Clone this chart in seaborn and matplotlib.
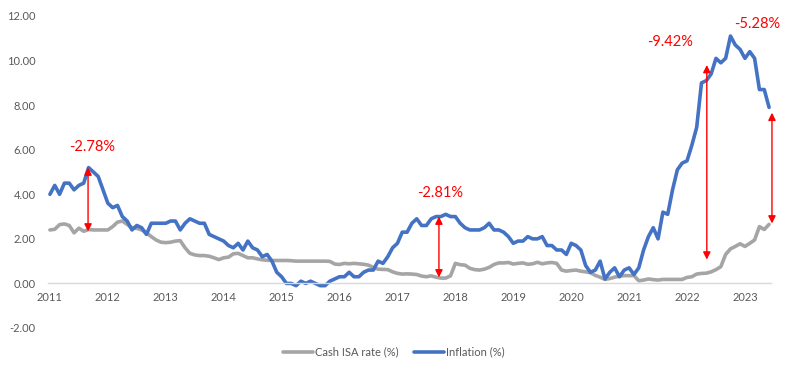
import numpy as np
import pandas as pd
import matplotlib
matplotlib.use('Agg')
import matplotlib.pyplot as plt
import seaborn as sns

# monthly values, Jan 2011 - Jun 2023
years = [str(y) for y in range(2011, 2024)]

isa_rate = [
    2.40, 2.43, 2.64, 2.67, 2.60, 2.27, 2.48, 2.34, 2.42, 2.40, 2.40, 2.40,   # 2011
    2.40, 2.55, 2.75, 2.80, 2.65, 2.50, 2.47, 2.40, 2.27, 2.10, 1.95, 1.85,   # 2012
    1.83, 1.85, 1.90, 1.92, 1.60, 1.35, 1.28, 1.25, 1.25, 1.22, 1.15, 1.07,   # 2013
    1.15, 1.18, 1.33, 1.35, 1.25, 1.15, 1.15, 1.10, 1.06, 1.04, 1.03, 1.03,   # 2014
    1.03, 1.03, 1.02, 1.00, 1.00, 1.00, 1.00, 1.00, 1.00, 1.00, 0.99, 0.87,   # 2015
    0.85, 0.90, 0.88, 0.90, 0.88, 0.86, 0.82, 0.72, 0.64, 0.63, 0.62, 0.52,   # 2016
    0.45, 0.42, 0.43, 0.42, 0.40, 0.33, 0.30, 0.34, 0.28, 0.24, 0.24, 0.34,   # 2017
    0.90, 0.84, 0.82, 0.68, 0.62, 0.60, 0.64, 0.72, 0.85, 0.92, 0.92, 0.94,   # 2018
    0.87, 0.90, 0.92, 0.86, 0.88, 0.95, 0.88, 0.92, 0.94, 0.90, 0.60, 0.55,   # 2019
    0.58, 0.60, 0.55, 0.52, 0.48, 0.36, 0.28, 0.18, 0.22, 0.28, 0.33, 0.35,   # 2020
    0.35, 0.35, 0.12, 0.15, 0.20, 0.17, 0.15, 0.18, 0.18, 0.18, 0.18, 0.18,   # 2021
    0.27, 0.30, 0.42, 0.45, 0.46, 0.52, 0.62, 0.75, 1.30, 1.55, 1.66, 1.78,   # 2022
    1.66, 1.80, 1.95, 2.55, 2.42, 2.65,                                       # 2023
]

inflation = [
    4.0, 4.4, 4.0, 4.5, 4.5, 4.2, 4.4, 4.5, 5.2, 5.0, 4.8, 4.2,     # 2011
    3.6, 3.4, 3.5, 3.0, 2.8, 2.4, 2.6, 2.5, 2.2, 2.7, 2.7, 2.7,     # 2012
    2.7, 2.8, 2.8, 2.4, 2.7, 2.9, 2.8, 2.7, 2.7, 2.2, 2.1, 2.0,     # 2013
    1.9, 1.7, 1.6, 1.8, 1.5, 1.9, 1.6, 1.5, 1.2, 1.3, 1.0, 0.5,     # 2014
    0.3, 0.0, 0.0, -0.1, 0.1, 0.0, 0.1, 0.0, -0.1, -0.1, 0.1, 0.2,  # 2015
    0.3, 0.3, 0.5, 0.3, 0.3, 0.5, 0.6, 0.6, 1.0, 0.9, 1.2, 1.6,     # 2016
    1.8, 2.3, 2.3, 2.7, 2.9, 2.6, 2.6, 2.9, 3.0, 3.0, 3.1, 3.0,     # 2017
    3.0, 2.7, 2.5, 2.4, 2.4, 2.4, 2.5, 2.7, 2.4, 2.4, 2.3, 2.1,     # 2018
    1.8, 1.9, 1.9, 2.1, 2.0, 2.0, 2.1, 1.7, 1.7, 1.5, 1.5, 1.3,     # 2019
    1.8, 1.7, 1.5, 0.8, 0.5, 0.6, 1.0, 0.2, 0.5, 0.7, 0.3, 0.6,     # 2020
    0.7, 0.4, 0.7, 1.5, 2.1, 2.5, 2.0, 3.2, 3.1, 4.2, 5.1, 5.4,     # 2021
    5.5, 6.2, 7.0, 9.0, 9.1, 9.4, 10.1, 9.9, 10.1, 11.1, 10.7, 10.5,  # 2022
    10.1, 10.4, 10.1, 8.7, 8.7, 7.9,                                # 2023
]

# gap annotations (month index, arrow top, arrow bottom, label)
gap_month = [7.9, 80.6, 136.1, 149.6]
gap_top = [5.2, 3.0, 9.8, 7.66]
gap_bottom = [2.33, 0.27, 1.07, 2.69]
gap_labels = ['-2.78%', '-2.81%', '-9.42%', '-5.28%']
label_month = [8.7, 80.8, 128.5, 146.5]
label_y = [6.1, 4.04, 10.82, 11.64]

df = pd.DataFrame({
    'month': np.arange(len(inflation)),
    'Cash ISA rate (%)': isa_rate,
    'Inflation (%)': inflation,
})

sns.set_style('white')
plt.rcParams['font.family'] = ['Lato', 'DejaVu Sans']

fig = plt.figure(figsize=(7.89, 3.70), dpi=100)
ax = fig.add_axes([48/789, 42/370, (771-48)/789, (328-16)/370])

sns.lineplot(data=df, x='month', y='Cash ISA rate (%)', ax=ax, color='#A5A5A5',
             lw=2.6, label='Cash ISA rate (%)')
sns.lineplot(data=df, x='month', y='Inflation (%)', ax=ax, color='#4472C4',
             lw=2.6, label='Inflation (%)')

# red double arrows + gap labels
for m, t, b in zip(gap_month, gap_top, gap_bottom):
    ax.annotate('', xy=(m, t), xytext=(m, b), annotation_clip=False,
                arrowprops=dict(arrowstyle='<|-|>', color='#FF0000', lw=1,
                                mutation_scale=11, shrinkA=0, shrinkB=0))
for m, yv, s in zip(label_month, label_y, gap_labels):
    ax.text(m, yv, s, color='#FF0000', fontsize=10.5, ha='center', va='center')

ax.set_ylim(-2, 12)
ax.set_xlim(-0.4, 149.4)
ax.set_yticks(np.arange(-2, 13, 2))
ax.set_yticklabels(['%.2f' % v for v in np.arange(-2, 13, 2)])
ax.set_xticks(np.arange(0, len(inflation), 12))
ax.set_xticklabels(years)
ax.set_xlabel('')
ax.set_ylabel('')

for s in ['left', 'right', 'top']:
    ax.spines[s].set_visible(False)
ax.spines['bottom'].set_position(('data', 0))
ax.spines['bottom'].set_color('#D9D9D9')
ax.spines['bottom'].set_linewidth(1)
ax.tick_params(axis='y', length=0, pad=9, labelsize=8, labelcolor='#595959')
ax.tick_params(axis='x', length=0, pad=6, labelsize=8, labelcolor='#595959')

ax.get_legend().remove()
h, l = ax.get_legend_handles_labels()
fig.legend(h, l, loc='center', bbox_to_anchor=(394/789, 18/370), ncol=2,
           frameon=False, fontsize=8, handlelength=2.7, handletextpad=0.2,
           columnspacing=1.4, labelcolor='#595959')

fig.savefig('out.png', dpi=100)
